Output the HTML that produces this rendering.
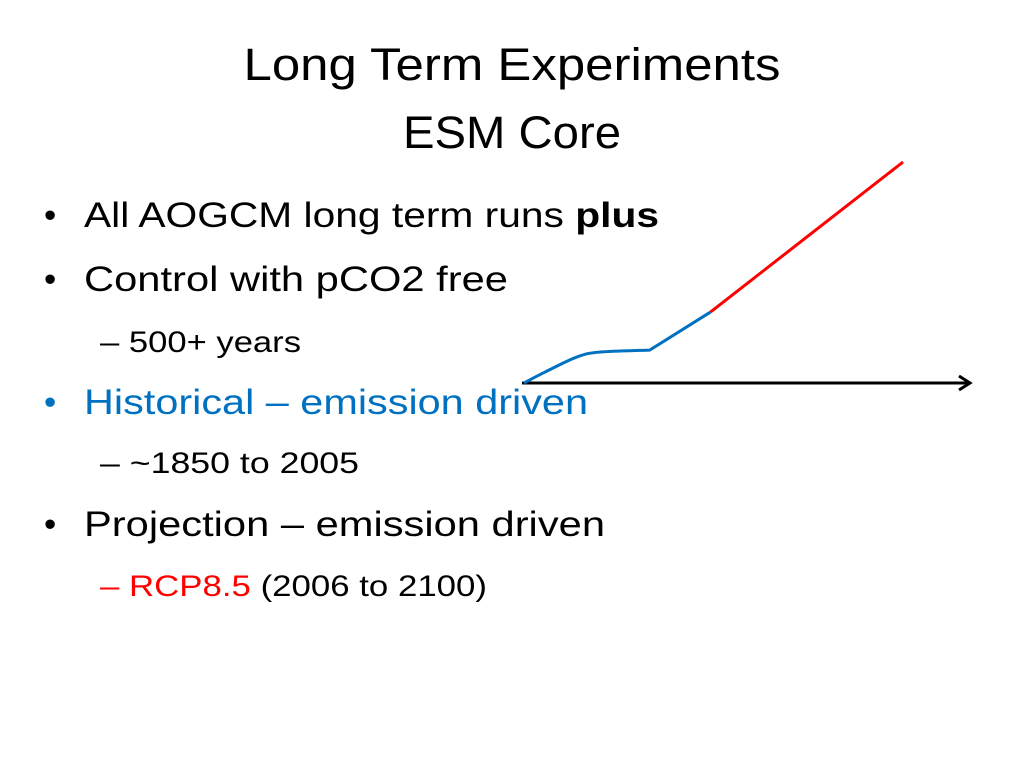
<!DOCTYPE html>
<html><head><meta charset="utf-8"><style>
html,body{margin:0;padding:0;background:#fff;}
svg{display:block;}
text{font-family:"Liberation Sans",sans-serif;}
</style></head><body>
<svg id="slide" width="1024" height="768" viewBox="0 0 1024 768">
<g font-size="45" fill="#000" text-anchor="middle">
<text x="512" y="80" textLength="537" lengthAdjust="spacingAndGlyphs">Long Term Experiments</text>
<text x="512" y="148" textLength="218" lengthAdjust="spacingAndGlyphs">ESM Core</text>
</g>
<g font-size="35">
<text x="44" y="227">•</text>
<text x="84" y="227" textLength="575" lengthAdjust="spacingAndGlyphs">All AOGCM long term runs <tspan font-weight="bold">plus</tspan></text>
<text x="44" y="291">•</text>
<text x="84" y="291" textLength="424" lengthAdjust="spacingAndGlyphs">Control with pCO2 free</text>
<text x="100" y="352" font-size="30" textLength="201" lengthAdjust="spacingAndGlyphs">– 500+ years</text>
<text x="44" y="414" fill="#0070c0">•</text>
<text x="84" y="414" fill="#0070c0" textLength="504" lengthAdjust="spacingAndGlyphs">Historical – emission driven</text>
<text x="100" y="473" font-size="30" textLength="259" lengthAdjust="spacingAndGlyphs">– ~1850 to 2005</text>
<text x="44" y="536">•</text>
<text x="84" y="536" textLength="521" lengthAdjust="spacingAndGlyphs">Projection – emission driven</text>
<text x="100" y="596" font-size="30" textLength="387" lengthAdjust="spacingAndGlyphs"><tspan fill="#ff0000">– RCP8.5</tspan> (2006 to 2100)</text>
</g>
<g id="chart"></g>
</svg>
<script>
const histYears = [1850, 1864, 1885, 1900, 1933, 1973];
const histValues = [0, 5, 11.8, 14, 14.9, 32.1];
const rcpYears = [1973, 2100];
const rcpValues = [32.1, 100];
const NS = "http://www.w3.org/2000/svg";
const xScale = y => 524 + (y - 1850) * (903 - 524) / 250;
const yScale = v => 383 - v * (383 - 162) / 100;
const g = document.getElementById("chart");
const axis = document.createElementNS(NS, "path");
axis.setAttribute("d", "M522 383 H969 M959 376 L970 383 L959 390");
axis.setAttribute("stroke", "#000"); axis.setAttribute("stroke-width", "3"); axis.setAttribute("fill", "none");


g.appendChild(axis);
function smoothPath(xs, ys) {
  const p = xs.map((x, i) => [xScale(x), yScale(ys[i])]);
  let d = "M" + p[0][0] + " " + p[0][1];
  const n = p.length;
  for (let i = 1; i < n; i++) {
    if (i === n - 1) { d += " L" + p[i][0] + " " + p[i][1]; break; }
    const p0 = p[Math.max(i - 2, 0)], p1 = p[i - 1], p2 = p[i], p3 = p[Math.min(i + 1, n - 2)];
    const c1 = [p1[0] + (p2[0] - p0[0]) / 6, p1[1] + (p2[1] - p0[1]) / 6];
    const c2 = [p2[0] - (p3[0] - p1[0]) / 6, p2[1] - (p3[1] - p1[1]) / 6];
    d += " C" + c1.join(" ") + " " + c2.join(" ") + " " + p2.join(" ");
  }
  return d;
}
const hist = document.createElementNS(NS, "path");
hist.setAttribute("d", smoothPath(histYears, histValues));
hist.setAttribute("stroke", "#0070c0"); hist.setAttribute("stroke-width", "3"); hist.setAttribute("fill", "none");


g.appendChild(hist);
const rcp = document.createElementNS(NS, "path");
rcp.setAttribute("d", "M" + rcpYears.map((y, i) => xScale(y) + " " + yScale(rcpValues[i])).join(" L"));
rcp.setAttribute("stroke", "#ff0000"); rcp.setAttribute("stroke-width", "3"); rcp.setAttribute("fill", "none");


g.appendChild(rcp);
</script>
</body></html>
